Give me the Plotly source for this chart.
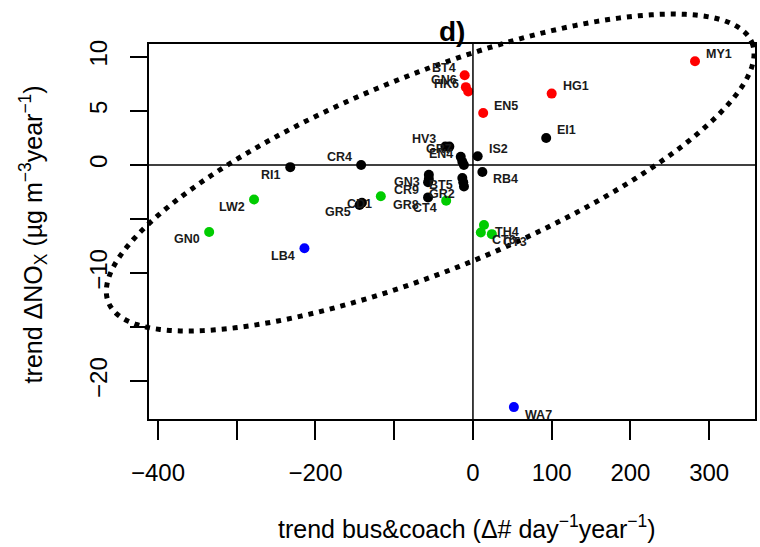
import numpy as np
import plotly.graph_objects as go

# ---------------- data ----------------
red_sites = ["MY1", "HG1", "EN5", "BT4", "GN6", "HK6"]
red_x = [282, 100, 13, -10.5, -9, -6]
red_y = [9.6, 6.6, 4.8, 8.3, 7.2, 6.8]
red_pos = ["tr", "tr", "tr", "tl", "tl", "tl"]

black_sites = ["EI1", "IS2", "RB4", "HV3", "", "GR7", "EN4", "",
               "RI1", "CR4", "GN3", "", "CR9", "BT5", "", "GR2",
               "GR8", "GR5", ""]
black_x = [93, 6, 12, -35, -30, -15.5, -13.5, -11.5,
           -232, -142, -56, -56, -57, -13.5, -12.3, -11.4,
           -57, -144, -141]
black_y = [2.5, 0.8, -0.65, 1.7, 1.7, 0.75, 0.3, 0.0,
           -0.2, 0.0, -0.9, -1.3, -1.6, -1.2, -1.6, -2.0,
           -3.0, -3.7, -3.5]
black_pos = ["tr", "tr", "br", "tl", "tl", "tl", "tl", "tl",
             "bl", "tl", "bl", "bl", "bl", "bl", "bl", "bl",
             "bl", "bl", "bl"]

green_sites = ["CD1", "CT4", "LW2", "GN0", "TH4", "CT6", "CT3"]
green_x = [-117, -34, -278, -335, 14, 10, 24]
green_y = [-2.9, -3.3, -3.2, -6.2, -5.55, -6.25, -6.4]
green_pos = ["bl", "bl", "bl", "bl", "br", "br", "br"]

blue_sites = ["LB4", "WA7"]
blue_x = [-214, 52]
blue_y = [-7.7, -22.4]
blue_pos = ["bl", "br"]

x_ticks = [-400, -300, -200, -100, 0, 100, 200, 300]
x_ticktext = ["\u2212400", "", "\u2212200", "", "0", "100", "200", "300"]
y_ticks = [-20, -15, -10, -5, 0, 5, 10]
y_ticktext = ["\u221220", "", "\u221210", "", "0", "5", "10"]

# dotted ellipse: centre (data units), semi-axes (pixels), tilt (degrees, screen)
ell_cx, ell_cy = -54.3, -0.7
ell_a, ell_b, ell_ang = 348.0, 98.0, -21.9

# ---------------- layout geometry ----------------
W, H = 760, 547
ML, MR, MT, MB = 149, 3, 44, 128
PW, PH = W - ML - MR, H - MT - MB
XR = [-411.4, 358.2]
YR = [-23.5, 11.19]

FONT = "Arial, Liberation Sans, sans-serif"

fig = go.Figure()
groups = [
    (red_sites, red_x, red_y, red_pos, "#ff0000"),
    (black_sites, black_x, black_y, black_pos, "#000000"),
    (green_sites, green_x, green_y, green_pos, "#00cc00"),
    (blue_sites, blue_x, blue_y, blue_pos, "#0000ff"),
]
anns = []
for s, xs, ys, ps, col in groups:
    fig.add_trace(go.Scatter(
        x=xs, y=ys, mode="markers",
        marker=dict(color=col, size=10, line=dict(width=0)),
        showlegend=False, cliponaxis=False,
    ))
    for lab, xv, yv, p in zip(s, xs, ys, ps):
        if not lab:
            continue
        anns.append(dict(
            text="<b>" + lab + "</b>", x=xv, y=yv, xref="x", yref="y", showarrow=False,
            xanchor="left" if p[1] == "r" else "right", yanchor="middle",
            xshift=9 if p[1] == "r" else -7,
            yshift=7.5 if p[0] == "t" else -7.5,
            font=dict(family=FONT, size=12.5, color="#1a1a1a"),
        ))

# zero lines
fig.add_shape(type="line", xref="x", yref="paper", x0=0, x1=0, y0=0, y1=1,
              line=dict(color="black", width=1.5))
fig.add_shape(type="line", xref="paper", yref="y", x0=0, x1=1, y0=0, y1=0,
              line=dict(color="black", width=1.5))

# ellipse path in paper coordinates (not clipped to the plot area)
cxp = (ell_cx - XR[0]) / (XR[1] - XR[0]) * PW
cyp = (YR[1] - ell_cy) / (YR[1] - YR[0]) * PH
t = np.linspace(0, 2 * np.pi, 241)
th = np.deg2rad(ell_ang)
dx = ell_a * np.cos(t) * np.cos(th) - ell_b * np.sin(t) * np.sin(th)
dy = ell_a * np.cos(t) * np.sin(th) + ell_b * np.sin(t) * np.cos(th)
px = (cxp + dx) / PW
py = 1 - (cyp + dy) / PH
path = "M " + " L ".join(f"{a_:.5f},{b_:.5f}" for a_, b_ in zip(px, py)) + " Z"
fig.add_shape(type="path", xref="paper", yref="paper", path=path,
              line=dict(color="black", width=5, dash="5px,6px"), layer="above")

anns += [
    dict(text="<b>d)</b>", xref="paper", yref="paper", x=0.5, y=1,
         xanchor="center", yanchor="bottom", yshift=-5, showarrow=False,
         font=dict(size=28, family=FONT)),
    dict(text="trend bus&coach (\u0394# day<sup>\u22121</sup>year<sup>\u22121</sup>)",
         xref="paper", yref="paper", x=0.525, y=-0.288,
         xanchor="center", yanchor="middle", showarrow=False,
         font=dict(size=25, family=FONT)),
    dict(text="trend \u0394NO<sub>X</sub> (\u00b5g m<sup>\u22123</sup>year<sup>\u22121</sup>)",
         xref="paper", yref="paper", x=-0.191, y=0.493, textangle=-90,
         xanchor="center", yanchor="middle", showarrow=False,
         font=dict(size=25, family=FONT)),
]

fig.update_layout(
    width=W, height=H,
    margin=dict(l=ML, r=MR, t=MT, b=MB),
    paper_bgcolor="white", plot_bgcolor="white",
    font=dict(family=FONT, color="black"),
    xaxis=dict(range=XR, tickvals=x_ticks, ticktext=x_ticktext,
               showgrid=False, zeroline=False,
               showline=True, mirror=True, linecolor="black", linewidth=1.5,
               ticks="outside", ticklen=19, tickwidth=1.5, tickcolor="black",
               tickfont=dict(size=24, family=FONT), ticklabelstandoff=12),
    yaxis=dict(range=YR, tickvals=y_ticks, ticktext=y_ticktext,
               showgrid=False, zeroline=False,
               showline=True, mirror=True, linecolor="black", linewidth=1.5,
               ticks="outside", ticklen=17, tickwidth=1.5, tickcolor="black",
               tickangle=-90,
               tickfont=dict(size=24, family=FONT), ticklabelstandoff=14),
    annotations=anns,
)

fig.write_html("out.html")
